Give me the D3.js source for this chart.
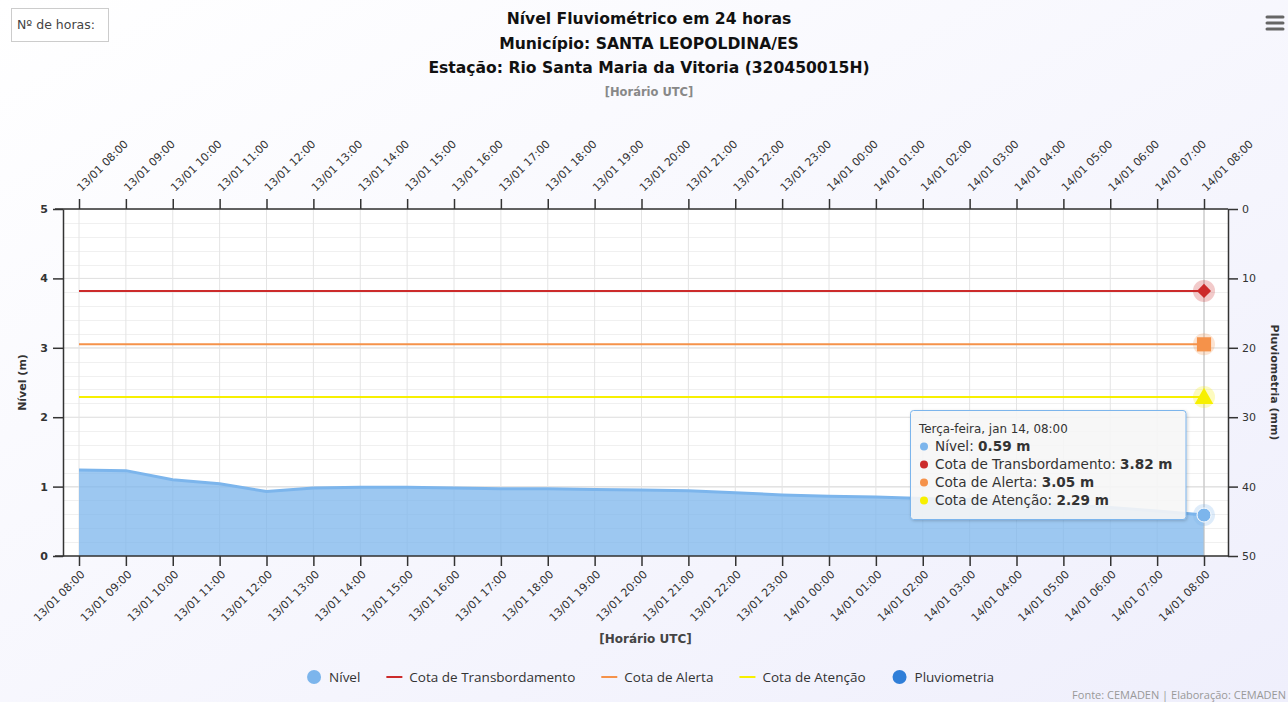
<!DOCTYPE html>
<html>
<head>
<meta charset="utf-8">
<script src="https://cdn.jsdelivr.net/npm/d3@7"></script>
<style>
  body { margin: 0; overflow: hidden; }
  text { font-family: "DejaVu Sans", sans-serif; }
</style>
</head>
<body>
<script>

// dados do gráfico
var horas = ["13/01 08:00", "13/01 09:00", "13/01 10:00", "13/01 11:00", "13/01 12:00",
  "13/01 13:00", "13/01 14:00", "13/01 15:00", "13/01 16:00", "13/01 17:00", "13/01 18:00",
  "13/01 19:00", "13/01 20:00", "13/01 21:00", "13/01 22:00", "13/01 23:00", "14/01 00:00",
  "14/01 01:00", "14/01 02:00", "14/01 03:00", "14/01 04:00", "14/01 05:00", "14/01 06:00",
  "14/01 07:00", "14/01 08:00"];
var nivel = [1.24, 1.23, 1.10, 1.04, 0.93, 0.98, 0.99, 0.99, 0.98, 0.97, 0.97, 0.96, 0.95,
  0.94, 0.91, 0.88, 0.86, 0.85, 0.83, 0.81, 0.78, 0.74, 0.70, 0.65, 0.59];
var cotaNomes = ["Cota de Transbordamento", "Cota de Alerta", "Cota de Atenção"];
var cotaValores = [3.82, 3.05, 2.29];
var nivelTicks = [0, 1, 2, 3, 4, 5];
var pluvioTicks = [0, 10, 20, 30, 40, 50];
var legendaNomes = ["Nível", "Cota de Transbordamento", "Cota de Alerta", "Cota de Atenção", "Pluviometria"];
var tooltipData = "Terça-feira, jan 14, 08:00";

var cotaCores = ["#cc2b2b", "#f5924a", "#f7f000"];
var corNivel = "#7cb5ec";
var corPluvio = "#2f7ed8";

var W = 1288, H = 702;
var pLeft = 63, pRight = 1228, pTop = 209, pBottom = 556;

var body = d3.select("body");

var svg = body.append('svg')  // холст
    .attr("width", W)
    .attr("height", H);

// fundo com gradiente
var defs = svg.append("defs");
var grad = defs.append("linearGradient")
    .attr("id", "bg")
    .attr("x1", 0).attr("y1", 0)
    .attr("x2", 1).attr("y2", 1);
grad.append("stop").attr("offset", "0%").attr("stop-color", "#ffffff");
grad.append("stop").attr("offset", "100%").attr("stop-color", "#efeffc");

var sombra = defs.append("filter").attr("id", "sombra")
    .attr("x", "-10%").attr("y", "-10%").attr("width", "130%").attr("height", "130%");
sombra.append("feDropShadow")
    .attr("dx", 1).attr("dy", 1).attr("stdDeviation", 1.5)
    .attr("flood-color", "#000").attr("flood-opacity", 0.2);

svg.append("rect")
    .attr("width", W)
    .attr("height", H)
    .style("fill", "url(#bg)");

// área do gráfico
svg.append("rect")
    .attr("x", pLeft)
    .attr("y", pTop)
    .attr("width", pRight - pLeft)
    .attr("height", pBottom - pTop)
    .style("fill", "#ffffff");

// escalas
var x = d3.scalePoint()
    .domain(horas)
    .range([79, 1204]);

var y = d3.scaleLinear()
    .domain([0, 5])
    .range([pBottom, pTop]);

var y2 = d3.scaleLinear()
    .domain([0, 50])
    .range([pTop, pBottom]);

// grade secundária
svg.append("g")
    .selectAll("line")
    .data(d3.range(0, 5.01, 0.2))
    .enter().append("line")
    .attr("x1", pLeft).attr("x2", pRight)
    .attr("y1", function(d) { return Math.round(y(d)) + 0.5; })
    .attr("y2", function(d) { return Math.round(y(d)) + 0.5; })
    .style("stroke", "#f0f0f0")
    .style("stroke-width", 1);

// grade principal
svg.append("g")
    .selectAll("line")
    .data(nivelTicks)
    .enter().append("line")
    .attr("x1", pLeft).attr("x2", pRight)
    .attr("y1", function(d) { return y(d); })
    .attr("y2", function(d) { return y(d); })
    .style("stroke", "#e0e0e0")
    .style("stroke-width", 1);

svg.append("g")
    .selectAll("line")
    .data(horas)
    .enter().append("line")
    .attr("x1", function(d) { return x(d); })
    .attr("x2", function(d) { return x(d); })
    .attr("y1", pTop).attr("y2", pBottom)
    .style("stroke", "#e4e4e4")
    .style("stroke-width", 1);

// série Nível (área)
var area = d3.area()
    .x(function(d, i) { return x(horas[i]); })
    .y0(y(0))
    .y1(function(d) { return y(d); });

var linha = d3.line()
    .x(function(d, i) { return x(horas[i]); })
    .y(function(d) { return y(d); });

svg.append("path")
    .datum(nivel)
    .attr("d", area)
    .style("fill", corNivel)
    .style("fill-opacity", 0.75);

svg.append("path")
    .datum(nivel)
    .attr("d", linha)
    .style("fill", "none")
    .style("stroke", corNivel)
    .style("stroke-width", 3)
    .style("stroke-linejoin", "round");

// cotas
cotaValores.forEach(function(v, i) {
  svg.append("line")
      .attr("x1", x(horas[0]))
      .attr("x2", x(horas[horas.length - 1]))
      .attr("y1", y(v))
      .attr("y2", y(v))
      .style("stroke", cotaCores[i])
      .style("stroke-width", 2);
});

// linha vertical do cursor
var xUlt = x(horas[horas.length - 1]);
svg.append("line")
    .attr("x1", xUlt).attr("x2", xUlt)
    .attr("y1", pTop).attr("y2", pBottom)
    .style("stroke", "#c0c0c0")
    .style("stroke-width", 1);

// eixos
function estiloEixo(g) {
  g.select(".domain").style("stroke", "#333").style("stroke-width", 1.5);
  g.selectAll(".tick line").style("stroke", "#333").style("stroke-width", 1.5);
  g.selectAll(".tick text")
      .style("font-family", "DejaVu Sans, sans-serif")
      .style("font-size", "11px")
      .style("fill", "#333");
}

var eixoBaixo = svg.append("g")
    .attr("transform", "translate(0," + pBottom + ")")
    .call(d3.axisBottom(x).tickSize(10).tickSizeOuter(0))
    .call(estiloEixo);
eixoBaixo.select(".domain").attr("d", "M" + (pLeft - 8) + ",0H" + pRight);
eixoBaixo.selectAll(".tick text")
    .attr("text-anchor", "end")
    .attr("x", 0).attr("y", 0).attr("dy", 0)
    .attr("transform", "translate(6,19) rotate(-45)");

var eixoTopo = svg.append("g")
    .attr("transform", "translate(0," + pTop + ")")
    .call(d3.axisTop(x).tickSize(10).tickSizeOuter(0))
    .call(estiloEixo);
eixoTopo.select(".domain").attr("d", "M" + (pLeft - 8) + ",0H" + pRight);
eixoTopo.selectAll(".tick text")
    .attr("text-anchor", "start")
    .attr("x", 0).attr("y", 0).attr("dy", 0)
    .attr("transform", "translate(2,-17) rotate(-45)");

var eixoEsq = svg.append("g")
    .attr("transform", "translate(" + pLeft + ",0)")
    .call(d3.axisLeft(y).tickValues(nivelTicks).tickFormat(d3.format("d")).tickSize(10).tickSizeOuter(0))
    .call(estiloEixo);
eixoEsq.selectAll(".tick text").style("font-weight", "bold").attr("x", -15);

var eixoDir = svg.append("g")
    .attr("transform", "translate(" + pRight + ",0)")
    .call(d3.axisRight(y2).tickValues(pluvioTicks).tickSize(10).tickSizeOuter(0))
    .call(estiloEixo);
eixoDir.selectAll(".tick text").attr("x", 14);

// títulos dos eixos
svg.append("text")
    .attr("transform", "translate(26," + ((pTop + pBottom) / 2) + ") rotate(-90)")
    .attr("text-anchor", "middle")
    .style("font-size", "11px")
    .style("font-weight", "bold")
    .style("fill", "#333")
    .text("Nível (m)");

svg.append("text")
    .attr("transform", "translate(1271," + ((pTop + pBottom) / 2) + ") rotate(90)")
    .attr("text-anchor", "middle")
    .style("font-size", "11px")
    .style("font-weight", "bold")
    .style("fill", "#333")
    .text("Pluviometria (mm)");

svg.append("text")
    .attr("x", (pLeft + pRight) / 2)
    .attr("y", 643)
    .attr("text-anchor", "middle")
    .style("font-size", "12px")
    .style("font-weight", "bold")
    .style("fill", "#444")
    .text("[Horário UTC]");

// títulos
var titulos = ["Nível Fluviométrico em 24 horas", "Município: SANTA LEOPOLDINA/ES",
  "Estação: Rio Santa Maria da Vitoria (320450015H)"];
titulos.forEach(function(t, i) {
  svg.append("text")
      .attr("x", 649)
      .attr("y", 24 + i * 24.5)
      .attr("text-anchor", "middle")
      .style("font-size", "15.6px")
      .style("font-weight", "bold")
      .style("fill", "#111")
      .text(t);
});
svg.append("text")
    .attr("x", 649)
    .attr("y", 96)
    .attr("text-anchor", "middle")
    .style("font-size", "11.5px")
    .style("font-weight", "bold")
    .style("fill", "#888")
    .text("[Horário UTC]");

// caixa "Nº de horas"
svg.append("rect")
    .attr("x", 11.5).attr("y", 8.5)
    .attr("width", 97).attr("height", 33)
    .style("fill", "#fff")
    .style("stroke", "#ccc");
svg.append("text")
    .attr("x", 17).attr("y", 29)
    .style("font-size", "12.5px")
    .style("fill", "#444")
    .text("Nº de horas:");

// menu
[0, 6, 12].forEach(function(d) {
  svg.append("line")
      .attr("x1", 1267).attr("x2", 1283)
      .attr("y1", 17 + d).attr("y2", 17 + d)
      .style("stroke", "#666")
      .style("stroke-width", 3)
      .style("stroke-linecap", "round");
});

// marcadores no último ponto
var yN = y(nivel[nivel.length - 1]);
svg.append("circle").attr("cx", xUlt).attr("cy", yN).attr("r", 11)
    .style("fill", corNivel).style("fill-opacity", 0.25);
svg.append("circle").attr("cx", xUlt).attr("cy", yN).attr("r", 7)
    .style("fill", corNivel).style("stroke", "#fff").style("stroke-width", 1);

var simbolos = [d3.symbolSquare, d3.symbolSquare, d3.symbolTriangle];
var simbTam = [100, 200, 150];
var simbRot = [45, 0, 0];
cotaValores.forEach(function(v, i) {
  svg.append("circle").attr("cx", xUlt).attr("cy", y(v)).attr("r", 11)
      .style("fill", cotaCores[i]).style("fill-opacity", 0.25);
  svg.append("path")
      .attr("d", d3.symbol().type(simbolos[i]).size(simbTam[i])())
      .attr("transform", "translate(" + xUlt + "," + (y(v) + (i == 2 ? 1.5 : 0)) + ") rotate(" + simbRot[i] + ")")
      .style("fill", cotaCores[i]);
});

// tooltip
var tip = svg.append("g").attr("transform", "translate(910,410)");
var tipBox = tip.append("rect")
    .attr("x", 0.5).attr("y", 0.5)
    .attr("height", 109)
    .attr("rx", 3)
    .style("fill", "rgba(248,248,248,0.88)")
    .style("stroke", corNivel)
    .style("stroke-width", 1)
    .attr("filter", "url(#sombra)");
tip.append("text")
    .attr("x", 9).attr("y", 23)
    .style("font-size", "11.9px")
    .style("fill", "#333")
    .text(tooltipData);

var tipNomes = ["Nível"].concat(cotaNomes);
var tipValores = [nivel[nivel.length - 1]].concat(cotaValores);
var tipCores = [corNivel].concat(cotaCores);
var maxW = 0;
tipNomes.forEach(function(n, i) {
  var yy = 41 + i * 18;
  tip.append("circle").attr("cx", 14).attr("cy", yy - 4.5).attr("r", 4)
      .style("fill", tipCores[i]);
  var t = tip.append("text")
      .attr("x", 25).attr("y", yy)
      .style("font-size", "13.6px")
      .style("fill", "#333");
  t.append("tspan").text(n + ": ");
  t.append("tspan").style("font-weight", "bold").text(tipValores[i].toFixed(2) + " m");
  maxW = Math.max(maxW, t.node().getComputedTextLength() + 25);
});
tipBox.attr("width", maxW + 13);

// legenda
var legCores = [corNivel].concat(cotaCores).concat([corPluvio]);
var legTipo = ["c", "l", "l", "l", "c"];
var leg = svg.append("g");
var lx = 0;
legendaNomes.forEach(function(n, i) {
  var g = leg.append("g").attr("transform", "translate(" + lx + ",0)");
  if (legTipo[i] == "c") {
    g.append("circle").attr("cx", 8).attr("cy", 0).attr("r", 7).style("fill", legCores[i]);
  } else {
    g.append("line").attr("x1", 0).attr("x2", 16).attr("y1", 0).attr("y2", 0)
        .style("stroke", legCores[i]).style("stroke-width", 2);
  }
  var t = g.append("text")
      .attr("x", 23).attr("y", 5)
      .style("font-family", "Open Sans, sans-serif")
      .style("font-size", "13.5px")
      .style("fill", "#333")
      .text(n);
  lx += 23 + t.node().getComputedTextLength() + 26;
});
leg.attr("transform", "translate(" + (650 - (lx - 26) / 2) + ",677)");

// crédito
svg.append("text")
    .attr("x", 1286).attr("y", 699)
    .attr("text-anchor", "end")
    .style("font-family", "Open Sans, sans-serif")
    .style("font-size", "11px")
    .style("fill", "#999")
    .text("Fonte: CEMADEN | Elaboração: CEMADEN");

</script>
</body>
</html>
